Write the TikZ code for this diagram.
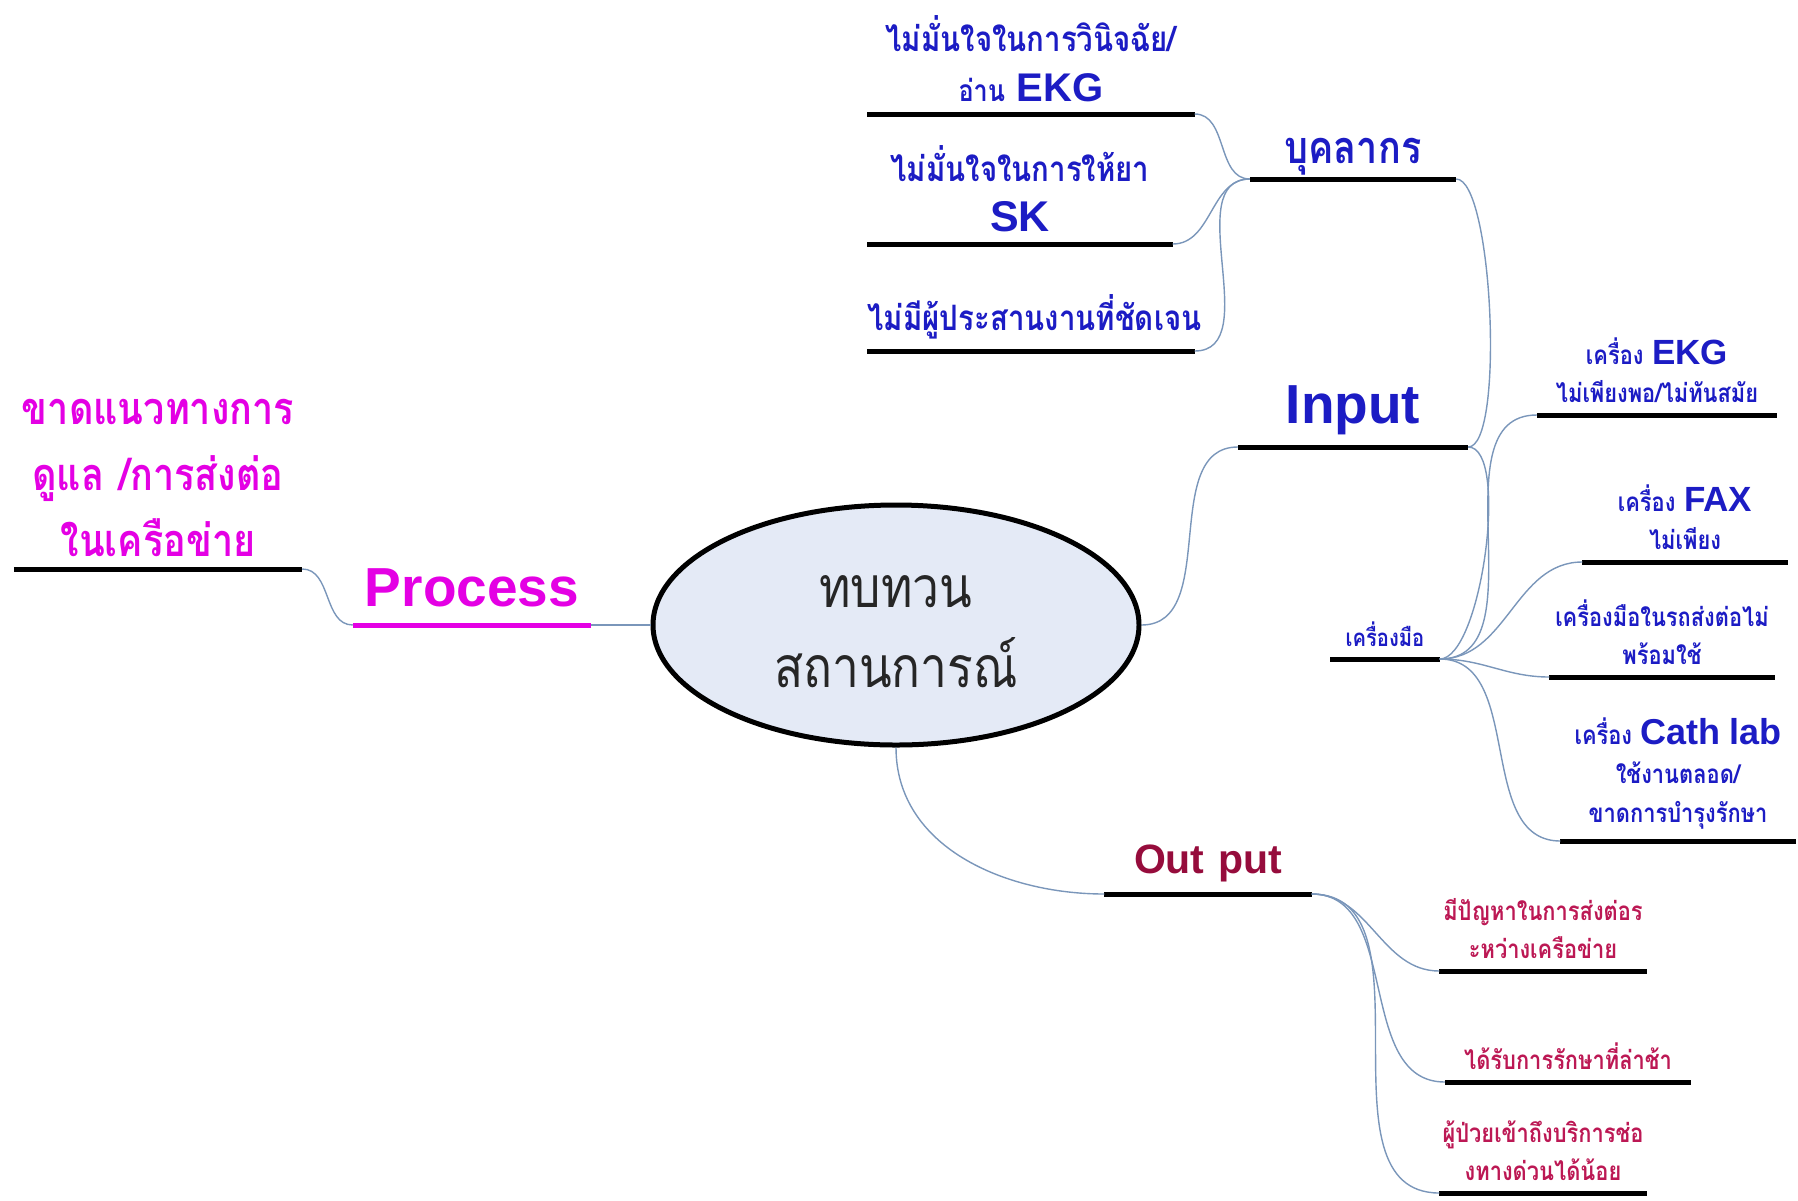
\documentclass[tikz,border=0pt]{standalone}
\usepackage{fontspec}
\usetikzlibrary{shapes.geometric}
\setmainfont{Liberation Sans}
\newfontfamily\thaifont[Script=Thai, FakeStretch=0.84]{Loma}
\newfontfamily\latfont{Liberation Sans}
\definecolor{inkblue}{RGB}{28,28,196}
\definecolor{pinkink}{RGB}{228,0,228}
\definecolor{wineink}{RGB}{150,12,60}
\definecolor{roseink}{RGB}{188,24,84}
\definecolor{bubble}{RGB}{228,234,246}
\definecolor{twigc}{RGB}{122,150,186}
\newcommand{\tsz}[2]{\fontsize{#1}{#2}\selectfont}
\tikzset{
  branch/.style={anchor=south, inner xsep=0pt, inner ysep=12pt, align=center},
  bar/.style={line width=5pt},
  twig/.style={draw=twigc, line width=1.4pt},
  bluetxt/.style 2 args={text=inkblue, font=\thaifont\bfseries\tsz{#1}{#2}},
  rosetxt/.style={text=roseink, font=\thaifont\bfseries\tsz{26}{38}},
}
\begin{document}
\begin{tikzpicture}[x=1pt,y=-1pt]
\useasboundingbox (0,0) rectangle (1798,1200);

\node[ellipse, draw, line width=5pt, fill=bubble, minimum width=486pt, minimum height=240pt] (hub) at (896,625) {};
\node[align=center, text=black!85, font=\thaifont\tsz{57}{80}] (hubtext) at ([yshift=-7pt]hub.center) {ทบทวน\\สถานการณ์};

% process side
\node[branch, inner ysep=18pt, text width=238pt, text=pinkink, font=\latfont\bfseries\tsz{55}{64}] (proc) at (472,625) {Process};
\node[branch, text width=288pt, text=pinkink, font=\thaifont\bfseries\tsz{45}{66}] (guide) at (158,569)
  {ขาดแนวทางการ\\ดูแล /การส่งต่อ\\ในเครือข่าย};

% input side
\node[branch, text width=230pt, text=inkblue, font=\latfont\bfseries\tsz{55}{64}] (input) at (1353,447) {Input};
\node[branch, inner ysep=4pt, bluetxt={45}{50}, text width=206pt] (staff) at (1353,179) {บุคลากร};
\node[branch, bluetxt={35}{50}, text width=327pt] (diag) at (1031,114)
  {ไม่มั่นใจในการวินิจฉัย/\\{\tsz{30}{50}อ่าน} {\latfont\tsz{40}{50}EKG}};
\node[branch, bluetxt={35}{50}, text width=305pt] (drug) at (1020,244)
  {ไม่มั่นใจในการให้ยา\\{\latfont\tsz{43}{50}SK}};
\node[branch, bluetxt={35}{50}, text width=327pt] (coord) at (1031,351) {ไม่มีผู้ประสานงานที่ชัดเจน};
\node[branch, bluetxt={24}{36}, text width=109pt] (tools) at (1385,659) {เครื่องมือ};
\node[branch, bluetxt={26}{38}, text width=240pt] (ekg) at (1657,415)
  {เครื่อง {\latfont\tsz{35}{38}EKG}\\ไม่เพียงพอ/ไม่ทันสมัย};
\node[branch, bluetxt={26}{38}, text width=205pt] (fax) at (1685,562)
  {เครื่อง {\latfont\tsz{35}{38}FAX}\\ไม่เพียง};
\node[branch, bluetxt={26}{38}, text width=225pt] (ambu) at (1662,677)
  {เครื่องมือในรถส่งต่อไม่\\พร้อมใช้};
\node[branch, bluetxt={26}{39}, text width=235pt] (cath) at (1678,841)
  {เครื่อง {\latfont\tsz{36}{39}Cath lab}\\ใช้งานตลอด/\\ขาดการบำรุงรักษา};

% output side
\node[branch, text width=207pt, text=wineink, font=\latfont\bfseries\tsz{41}{50}] (outp) at (1208,894) {Out put};
\node[branch, rosetxt, text width=207pt] (refer) at (1543,971) {มีปัญหาในการส่งต่อร\\ะหว่างเครือข่าย};
\node[branch, rosetxt, text width=246pt] (delay) at (1568,1082) {ได้รับการรักษาที่ล่าช้า};
\node[branch, rosetxt, text width=207pt] (access) at (1543,1193) {ผู้ป่วยเข้าถึงบริการช่อ\\งทางด่วนได้น้อย};

% underlines
\draw[bar, pinkink] (proc.south west) -- (proc.south east);
\foreach \n in {guide,input,staff,diag,drug,coord,tools,ekg,fax,ambu,cath,outp,refer,delay,access}
  \draw[bar] (\n.south west) -- (\n.south east);

% connectors
\draw[twig] (hub.west) -- (proc.south east);
\draw[twig] (proc.south west) to[out=180,in=0] (guide.south east);
\draw[twig] (hub.east) to[out=0,in=180] (input.south west);
\draw[twig] (hub.south) to[out=-90,in=180] (outp.south west);
\draw[twig] (input.south east) to[out=0,in=0,looseness=0.35] (staff.south east);
\draw[twig] (input.south east) to[out=0,in=0,looseness=0.5] (tools.south east);
\foreach \c in {diag,drug,coord}
  \draw[twig] (staff.south west) to[out=180,in=0] (\c.south east);
\foreach \c in {ekg,fax,ambu,cath}
  \draw[twig] (tools.south east) to[out=0,in=180] (\c.south west);
\foreach \c in {refer,delay,access}
  \draw[twig] (outp.south east) to[out=0,in=180] (\c.south west);
\end{tikzpicture}
\end{document}
